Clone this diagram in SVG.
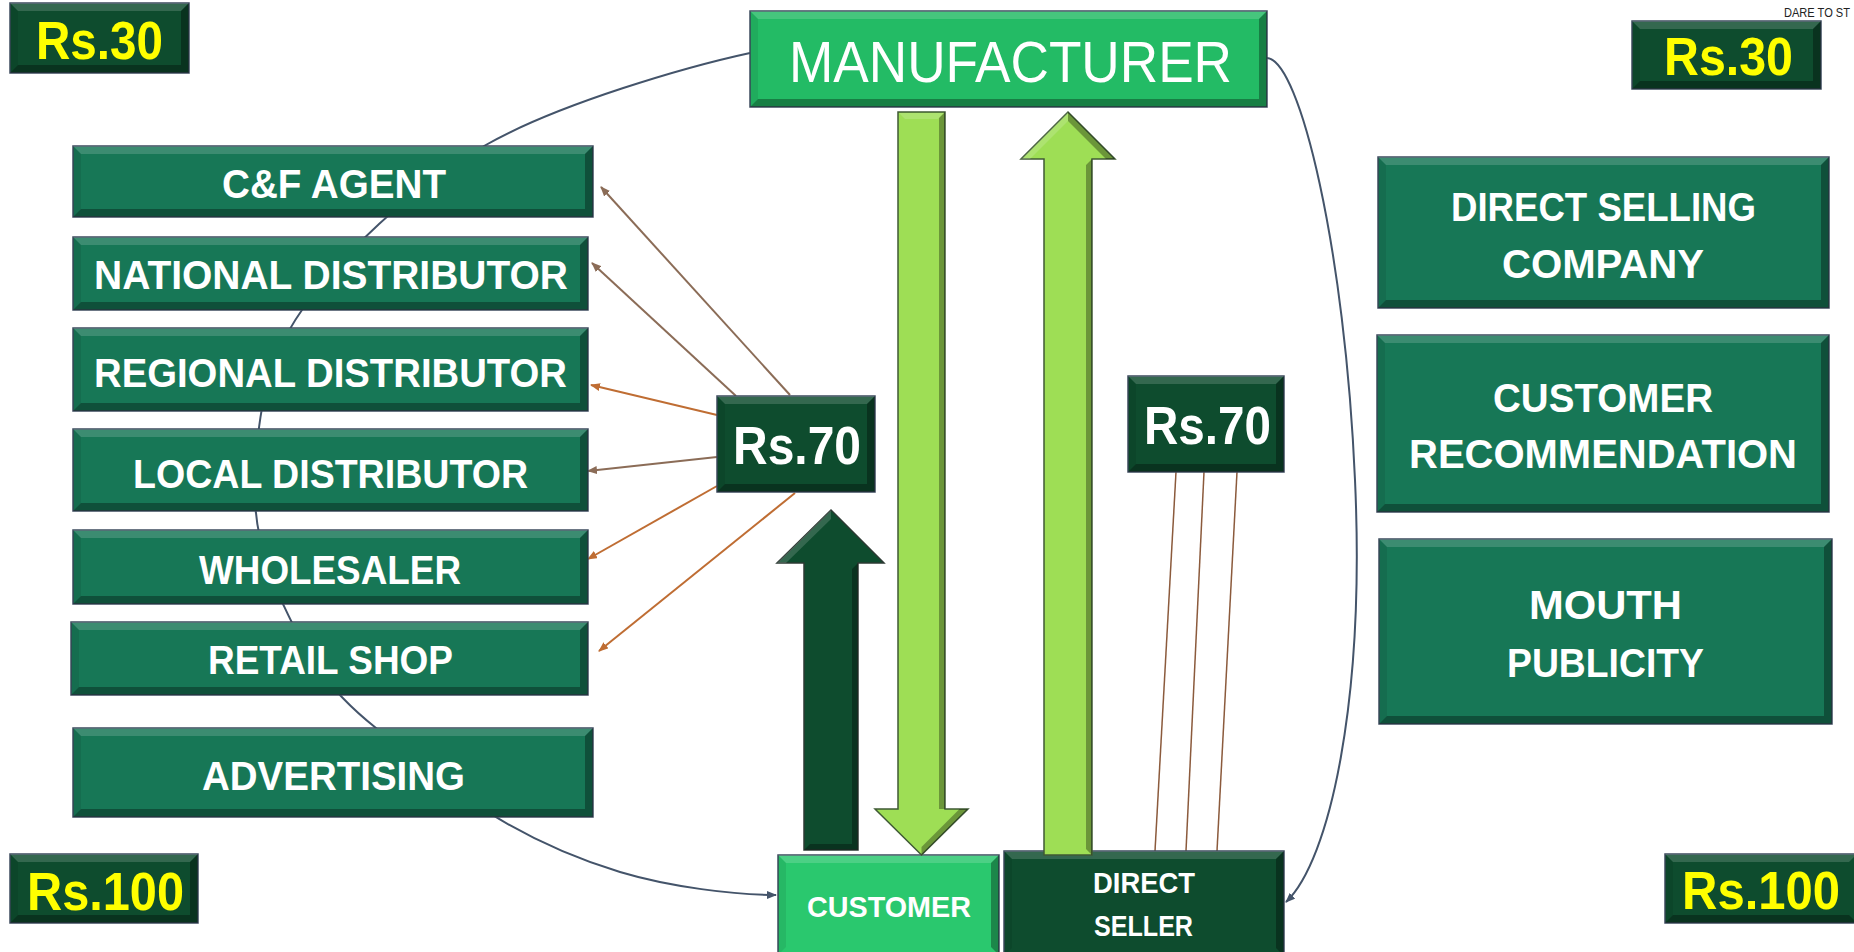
<svg xmlns="http://www.w3.org/2000/svg" width="1854" height="952" viewBox="0 0 1854 952">
<defs>
<style>
.box{stroke:#3d4b5e;stroke-width:1.5}
.mid{fill:#177756}
.dark{fill:#0e4c2e}
.man{fill:#23bb65}
.cust{fill:#2ac86e}
.bt{fill:#ffffff;fill-opacity:.16}
.bl{fill:#000000;fill-opacity:.08}
.bd{fill:#000000;fill-opacity:.32}
.t{font-family:"Liberation Sans",Arial,sans-serif;font-weight:bold;fill:#ffffff;text-anchor:middle}
.f41{font-size:41px}
.f53{font-size:53px}
.f30{font-size:30px}
.yel{fill:#ffff00}
.curve{fill:none;stroke:#44546a;stroke-width:2}
.brg{fill:none;stroke:#8b6c57;stroke-width:2}
.bro{fill:none;stroke:#bf6d33;stroke-width:2}
.thin{fill:none;stroke:#8b5a3c;stroke-width:1.5}
.larrow{fill:#9ede55;stroke:#3f5a35;stroke-width:1.5}
.darrow{fill:#0e4c2e;stroke:#2c3a33;stroke-width:1.5}
</style>
<marker id="mSlate" markerUnits="userSpaceOnUse" markerWidth="10" markerHeight="8" refX="9" refY="4" orient="auto">
<path d="M0,0 L10,4 L0,8 z" fill="#44546a"/>
</marker>
<marker id="mBrg" markerUnits="userSpaceOnUse" markerWidth="10" markerHeight="8" refX="9" refY="4" orient="auto">
<path d="M0,0 L10,4 L0,8 z" fill="#8b6c57"/>
</marker>
<marker id="mBro" markerUnits="userSpaceOnUse" markerWidth="10" markerHeight="8" refX="9" refY="4" orient="auto">
<path d="M0,0 L10,4 L0,8 z" fill="#bf6d33"/>
</marker>
</defs>
<rect width="1854" height="952" fill="#ffffff"/>

<g id="connectors">
<path class="curve" marker-end="url(#mSlate)" d="M750,53 C690,66 558.7,103.2 484,146 C409.3,188.8 340.2,256 302,310 C263.8,364 258.2,421 255,470 C251.8,519 262.8,561 283,604 C303.2,647 319.8,683.3 376,728 C432.2,772.7 500,836 620,872 C670,887 735,895 776,895"/>
<path class="curve" marker-end="url(#mSlate)" d="M1267,58 C1300,60 1345,250 1355,480 C1365,700 1330,860 1286,902"/>
<path class="brg" marker-end="url(#mBrg)" d="M790,395 L601,187"/>
<path class="brg" marker-end="url(#mBrg)" d="M736,396 L592,263"/>
<path class="bro" marker-end="url(#mBro)" d="M717,415 L591,385"/>
<path class="brg" marker-end="url(#mBrg)" d="M717,457 L588,471"/>
<path class="bro" marker-end="url(#mBro)" d="M717,486 L588,559"/>
<path class="bro" marker-end="url(#mBro)" d="M795,493 L599,651"/>
<path class="thin" d="M1176,472 L1155,851"/>
<path class="thin" d="M1204,472 L1186,851"/>
<path class="thin" d="M1237,472 L1217,851"/>
</g>

<g id="rs30-left">
<rect class="box dark" x="10" y="3" width="179" height="70"/>
<path class="bt" d="M10,3 h179 l-8,8 h-163 z"/>
<path class="bl" d="M10,3 l8,8 v54 l-8,8 z"/>
<path class="bd" d="M10,73 h179 l-8,-8 h-163 z M189,3 l-8,8 v54 l8,8 z"/>
<text class="t f53 yel" x="99.5" y="59" textLength="127" lengthAdjust="spacingAndGlyphs">Rs.30</text>
</g>

<g id="rs30-right">
<rect class="box dark" x="1632" y="21" width="189" height="68"/>
<path class="bt" d="M1632,21 h189 l-8,8 h-173 z"/>
<path class="bl" d="M1632,21 l8,8 v52 l-8,8 z"/>
<path class="bd" d="M1632,89 h189 l-8,-8 h-173 z M1821,21 l-8,8 v52 l8,8 z"/>
<text class="t f53 yel" x="1728.5" y="75" textLength="129" lengthAdjust="spacingAndGlyphs">Rs.30</text>
</g>

<g id="rs100-left">
<rect class="box dark" x="10" y="854" width="188" height="69"/>
<path class="bt" d="M10,854 h188 l-8,8 h-172 z"/>
<path class="bl" d="M10,854 l8,8 v53 l-8,8 z"/>
<path class="bd" d="M10,923 h188 l-8,-8 h-172 z M198,854 l-8,8 v53 l8,8 z"/>
<text class="t f53 yel" x="105.5" y="910" textLength="157" lengthAdjust="spacingAndGlyphs">Rs.100</text>
</g>

<g id="rs100-right">
<rect class="box dark" x="1665" y="854" width="192" height="69"/>
<path class="bt" d="M1665,854 h192 l-8,8 h-176 z"/>
<path class="bl" d="M1665,854 l8,8 v53 l-8,8 z"/>
<path class="bd" d="M1665,923 h192 l-8,-8 h-176 z"/>
<text class="t f53 yel" x="1761" y="909" textLength="158" lengthAdjust="spacingAndGlyphs">Rs.100</text>
</g>

<g id="dare">
<text x="1784" y="17" font-family="Liberation Sans, Arial, sans-serif" font-size="12" fill="#222222" textLength="66" lengthAdjust="spacingAndGlyphs">DARE TO ST</text>
</g>

<g id="manufacturer">
<rect class="box man" x="750" y="11" width="517" height="96"/>
<path class="bt" d="M750,11 h517 l-8,8 h-501 z"/>
<path class="bl" d="M750,11 l8,8 v80 l-8,8 z"/>
<path class="bd" d="M750,107 h517 l-8,-8 h-501 z M1267,11 l-8,8 v80 l8,8 z"/>
<text x="1010.5" y="82" font-family="Liberation Sans, Arial, sans-serif" font-size="58" fill="#ffffff" text-anchor="middle" textLength="443" lengthAdjust="spacingAndGlyphs">MANUFACTURER</text>
</g>

<g id="cf-agent">
<rect class="box mid" x="73" y="146" width="520" height="71"/>
<path class="bt" d="M73,146 h520 l-8,8 h-504 z"/>
<path class="bl" d="M73,146 l8,8 v55 l-8,8 z"/>
<path class="bd" d="M73,217 h520 l-8,-8 h-504 z M593,146 l-8,8 v55 l8,8 z"/>
<text class="t f41" x="334" y="198" textLength="224" lengthAdjust="spacingAndGlyphs">C&amp;F AGENT</text>
</g>

<g id="national-distributor">
<rect class="box mid" x="73" y="237" width="515" height="73"/>
<path class="bt" d="M73,237 h515 l-8,8 h-499 z"/>
<path class="bl" d="M73,237 l8,8 v57 l-8,8 z"/>
<path class="bd" d="M73,310 h515 l-8,-8 h-499 z M588,237 l-8,8 v57 l8,8 z"/>
<text class="t f41" x="331" y="289" textLength="474" lengthAdjust="spacingAndGlyphs">NATIONAL DISTRIBUTOR</text>
</g>

<g id="regional-distributor">
<rect class="box mid" x="73" y="328" width="515" height="83"/>
<path class="bt" d="M73,328 h515 l-8,8 h-499 z"/>
<path class="bl" d="M73,328 l8,8 v67 l-8,8 z"/>
<path class="bd" d="M73,411 h515 l-8,-8 h-499 z M588,328 l-8,8 v67 l8,8 z"/>
<text class="t f41" x="330.5" y="387" textLength="473" lengthAdjust="spacingAndGlyphs">REGIONAL DISTRIBUTOR</text>
</g>

<g id="local-distributor">
<rect class="box mid" x="73" y="429" width="515" height="82"/>
<path class="bt" d="M73,429 h515 l-8,8 h-499 z"/>
<path class="bl" d="M73,429 l8,8 v66 l-8,8 z"/>
<path class="bd" d="M73,511 h515 l-8,-8 h-499 z M588,429 l-8,8 v66 l8,8 z"/>
<text class="t f41" x="330.5" y="488" textLength="395" lengthAdjust="spacingAndGlyphs">LOCAL DISTRIBUTOR</text>
</g>

<g id="wholesaler">
<rect class="box mid" x="73" y="530" width="515" height="74"/>
<path class="bt" d="M73,530 h515 l-8,8 h-499 z"/>
<path class="bl" d="M73,530 l8,8 v58 l-8,8 z"/>
<path class="bd" d="M73,604 h515 l-8,-8 h-499 z M588,530 l-8,8 v58 l8,8 z"/>
<text class="t f41" x="330" y="584" textLength="262" lengthAdjust="spacingAndGlyphs">WHOLESALER</text>
</g>

<g id="retail-shop">
<rect class="box mid" x="71" y="622" width="517" height="73"/>
<path class="bt" d="M71,622 h517 l-8,8 h-501 z"/>
<path class="bl" d="M71,622 l8,8 v57 l-8,8 z"/>
<path class="bd" d="M71,695 h517 l-8,-8 h-501 z M588,622 l-8,8 v57 l8,8 z"/>
<text class="t f41" x="330.5" y="674" textLength="245" lengthAdjust="spacingAndGlyphs">RETAIL SHOP</text>
</g>

<g id="advertising">
<rect class="box mid" x="73" y="728" width="520" height="89"/>
<path class="bt" d="M73,728 h520 l-8,8 h-504 z"/>
<path class="bl" d="M73,728 l8,8 v73 l-8,8 z"/>
<path class="bd" d="M73,817 h520 l-8,-8 h-504 z M593,728 l-8,8 v73 l8,8 z"/>
<text class="t f41" x="333.5" y="790" textLength="263" lengthAdjust="spacingAndGlyphs">ADVERTISING</text>
</g>

<g id="rs70-left">
<rect class="box dark" x="717" y="396" width="158" height="96"/>
<path class="bt" d="M717,396 h158 l-8,8 h-142 z"/>
<path class="bl" d="M717,396 l8,8 v80 l-8,8 z"/>
<path class="bd" d="M717,492 h158 l-8,-8 h-142 z M875,396 l-8,8 v80 l8,8 z"/>
<text class="t f53" x="797" y="464" textLength="128" lengthAdjust="spacingAndGlyphs">Rs.70</text>
</g>

<g id="rs70-right">
<rect class="box dark" x="1128" y="376" width="156" height="96"/>
<path class="bt" d="M1128,376 h156 l-8,8 h-140 z"/>
<path class="bl" d="M1128,376 l8,8 v80 l-8,8 z"/>
<path class="bd" d="M1128,472 h156 l-8,-8 h-140 z M1284,376 l-8,8 v80 l8,8 z"/>
<text class="t f53" x="1207.5" y="444" textLength="127" lengthAdjust="spacingAndGlyphs">Rs.70</text>
</g>

<g id="direct-selling-company">
<rect class="box mid" x="1378" y="157" width="451" height="151"/>
<path class="bt" d="M1378,157 h451 l-8,8 h-435 z"/>
<path class="bl" d="M1378,157 l8,8 v135 l-8,8 z"/>
<path class="bd" d="M1378,308 h451 l-8,-8 h-435 z M1829,157 l-8,8 v135 l8,8 z"/>
<text class="t f41" x="1603.5" y="221" textLength="305" lengthAdjust="spacingAndGlyphs">DIRECT SELLING</text>
<text class="t f41" x="1603" y="278" textLength="202" lengthAdjust="spacingAndGlyphs">COMPANY</text>
</g>

<g id="customer-recommendation">
<rect class="box mid" x="1377" y="335" width="452" height="177"/>
<path class="bt" d="M1377,335 h452 l-8,8 h-436 z"/>
<path class="bl" d="M1377,335 l8,8 v161 l-8,8 z"/>
<path class="bd" d="M1377,512 h452 l-8,-8 h-436 z M1829,335 l-8,8 v161 l8,8 z"/>
<text class="t f41" x="1603" y="412" textLength="220" lengthAdjust="spacingAndGlyphs">CUSTOMER</text>
<text class="t f41" x="1603" y="468" textLength="388" lengthAdjust="spacingAndGlyphs">RECOMMENDATION</text>
</g>

<g id="mouth-publicity">
<rect class="box mid" x="1379" y="539" width="453" height="185"/>
<path class="bt" d="M1379,539 h453 l-8,8 h-437 z"/>
<path class="bl" d="M1379,539 l8,8 v169 l-8,8 z"/>
<path class="bd" d="M1379,724 h453 l-8,-8 h-437 z M1832,539 l-8,8 v169 l8,8 z"/>
<text class="t f41" x="1605.5" y="619" textLength="153" lengthAdjust="spacingAndGlyphs">MOUTH</text>
<text class="t f41" x="1605.5" y="677" textLength="197" lengthAdjust="spacingAndGlyphs">PUBLICITY</text>
</g>

<g id="customer">
<rect class="box cust" x="778" y="855" width="221" height="100"/>
<path class="bt" d="M778,855 h221 l-8,8 h-205 z"/>
<path class="bl" d="M778,855 l8,8 v84 l-8,8 z"/>
<path class="bd" d="M999,855 l-8,8 v84 l8,8 z"/>
<text class="t f30" x="889" y="917" textLength="164" lengthAdjust="spacingAndGlyphs">CUSTOMER</text>
</g>

<g id="direct-seller">
<rect class="box dark" x="1004" y="851" width="280" height="105"/>
<path class="bt" d="M1004,851 h280 l-8,8 h-264 z"/>
<path class="bl" d="M1004,851 l8,8 v89 l-8,8 z"/>
<path class="bd" d="M1284,851 l-8,8 v89 l8,8 z"/>
<text class="t f30" x="1144" y="893" textLength="102" lengthAdjust="spacingAndGlyphs">DIRECT</text>
<text class="t f30" x="1143.5" y="936" textLength="99" lengthAdjust="spacingAndGlyphs">SELLER</text>
</g>

<g id="block-arrows">
<g id="arrow-goods-down">
<polygon class="larrow" points="898,112 945,112 945,809 968,809 921.5,855 875,809 898,809"/>
<path class="bt" d="M899,113 h45 l-6,6 h-33 z"/>
<path class="bd" d="M945,112 l-6,6 v691 h6 z M968,809 l-46.5,46 l0,-8 l38,-38 z"/>
</g>
<g id="arrow-goods-up">
<polygon class="larrow" points="1068,112 1115,159 1092,159 1092,855 1044,855 1044,159 1021,159"/>
<path class="bt" d="M1068,112 l-47,47 h9 l38,-38 z"/>
<path class="bd" d="M1092,159 l-6,6 v684 l6,6 z M1068,112 l47,47 h-9 l-38,-38 z"/>
</g>
<g id="arrow-money-up">
<polygon class="darrow" points="831,510 884,563 858,563 858,850 804,850 804,563 777,563"/>
<path class="bt" d="M831,510 l-54,53 h9 l45,-44 z"/>
<path class="bd" d="M858,563 l-6,6 v275 l6,6 z M804,850 l6,-6 h42 l6,6 z"/>
</g>
</g>
</svg>
